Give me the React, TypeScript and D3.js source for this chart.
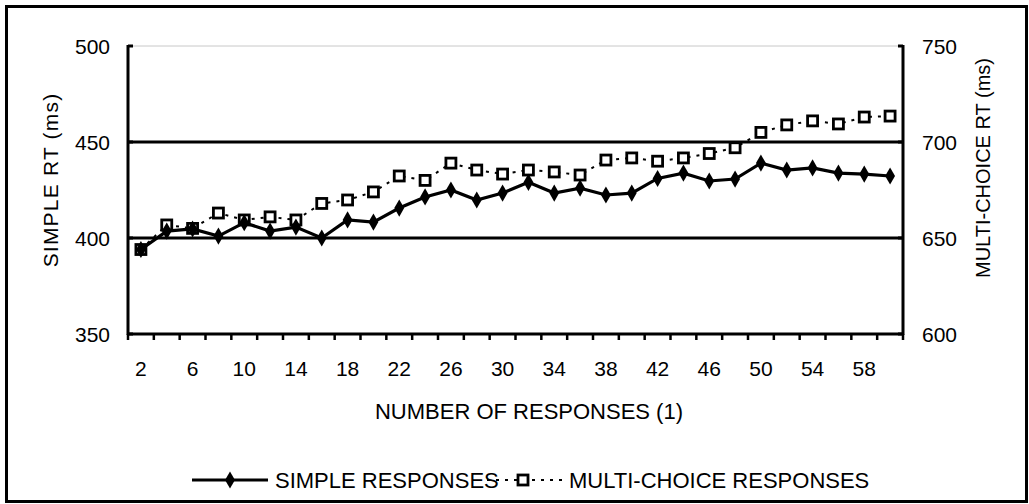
import React, { useEffect, useRef } from 'react';
import * as d3 from 'd3';

const categories = ['2', '4', '6', '8', '10', '12', '14', '16', '18', '20', '22', '24', '26', '28', '30',
    '32', '34', '36', '38', '40', '42', '44', '46', '48', '50', '52', '54', '56', '58', '60'];

const simpleRT = [394, 403.6, 404.7, 401, 408, 403.6, 405.7, 400, 409.4, 408.3, 415.6, 421.4, 425, 419.8, 423.4,
    429, 423.4, 426, 422.4, 423.4, 431, 433.8, 429.7, 430.7, 439, 435.4, 436.5, 433.8, 433.3, 432.3];

const multiRT = [644, 656.8, 655, 663, 659.4, 661, 659.4, 668, 669.8, 674, 682.3, 680, 689, 685.4, 683.3,
    685.4, 684.4, 682.8, 690.6, 691.7, 690, 691.7, 694, 697, 705, 708.9, 711, 709.4, 713, 713.5];

const xTickLabels = ['2', '6', '10', '14', '18', '22', '26', '30', '34', '38', '42', '46', '50', '54', '58'];
const leftTicks = [350, 400, 450, 500];
const rightTicks = [600, 650, 700, 750];

const FONT = '"Liberation Sans", Arial, sans-serif';

const App: React.FC = () => {
    const svgRef = useRef<SVGSVGElement | null>(null);

    useEffect(() => {
        const svg = d3.select(svgRef.current);
        svg.selectAll('*').remove();

        const width = 1029;
        const height = 504;
        const margin = { top: 46, right: 126, bottom: 170, left: 128 };

        const x = d3.scaleBand()
            .domain(categories)
            .range([margin.left, width - margin.right]);

        const yLeft = d3.scaleLinear().domain([350, 500]).range([height - margin.bottom, margin.top]);
        const yRight = d3.scaleLinear().domain([600, 750]).range([height - margin.bottom, margin.top]);

        const cx = (c: string) => x(c)! + x.bandwidth() / 2;

        // outer border
        svg.append('rect')
            .attr('x', 6.5).attr('y', 6.5)
            .attr('width', width - 9).attr('height', height - 9)
            .attr('fill', 'white')
            .attr('stroke', 'black')
            .attr('stroke-width', 3);

        // gridlines
        svg.append('line')
            .attr('x1', margin.left).attr('x2', width - margin.right)
            .attr('y1', yLeft(500)).attr('y2', yLeft(500))
            .attr('stroke', '#c8c8c8').attr('stroke-width', 1);

        svg.append('g')
            .selectAll('line')
            .data([400, 450])
            .enter()
            .append('line')
            .attr('x1', margin.left).attr('x2', width - margin.right)
            .attr('y1', d => yLeft(d)).attr('y2', d => yLeft(d))
            .attr('stroke', 'black').attr('stroke-width', 3);

        // axes lines
        const x0 = margin.left;
        const x1 = width - margin.right;
        const yb = yLeft(350);
        svg.append('line').attr('x1', x0).attr('x2', x1).attr('y1', yb).attr('y2', yb)
            .attr('stroke', 'black').attr('stroke-width', 3);
        svg.append('line').attr('x1', x0).attr('x2', x0).attr('y1', yLeft(500) - 1).attr('y2', yb + 1)
            .attr('stroke', 'black').attr('stroke-width', 3);
        svg.append('line').attr('x1', x1).attr('x2', x1).attr('y1', yLeft(500) - 1).attr('y2', yb + 1)
            .attr('stroke', 'black').attr('stroke-width', 3);

        // y ticks (inside)
        svg.append('g').selectAll('line').data(leftTicks).enter().append('line')
            .attr('x1', x0).attr('x2', x0 + 5)
            .attr('y1', d => yLeft(d)).attr('y2', d => yLeft(d))
            .attr('stroke', 'black').attr('stroke-width', 3);
        svg.append('g').selectAll('line').data(rightTicks).enter().append('line')
            .attr('x1', x1 - 5).attr('x2', x1)
            .attr('y1', d => yRight(d)).attr('y2', d => yRight(d))
            .attr('stroke', 'black').attr('stroke-width', 3);

        // x ticks at category boundaries
        const boundaries = categories.map(c => x(c)!).concat([x1]);
        svg.append('g').selectAll('line').data(boundaries).enter().append('line')
            .attr('x1', d => d).attr('x2', d => d)
            .attr('y1', yb).attr('y2', yb + 6)
            .attr('stroke', 'black').attr('stroke-width', 2.5);

        // tick labels
        svg.append('g').selectAll('text').data(leftTicks).enter().append('text')
            .attr('x', x0 - 18).attr('y', d => yLeft(d) + 7.5)
            .attr('text-anchor', 'end')
            .style('font-family', FONT).style('font-size', '21px')
            .text(d => d);
        svg.append('g').selectAll('text').data(rightTicks).enter().append('text')
            .attr('x', x1 + 19).attr('y', d => yRight(d) + 7.5)
            .attr('text-anchor', 'start')
            .style('font-family', FONT).style('font-size', '21px')
            .text(d => d);
        svg.append('g').selectAll('text').data(xTickLabels).enter().append('text')
            .attr('x', d => cx(d)).attr('y', yb + 42)
            .attr('text-anchor', 'middle')
            .style('font-family', FONT).style('font-size', '21px')
            .text(d => d);

        // axis titles
        svg.append('text')
            .attr('transform', `translate(58,180) rotate(-90)`)
            .attr('text-anchor', 'middle')
            .style('font-family', FONT).style('font-size', '21px')
            .style('letter-spacing', '1.2px')
            .text('SIMPLE RT (ms)');
        svg.append('text')
            .attr('transform', `translate(990,168) rotate(-90)`)
            .attr('text-anchor', 'middle')
            .style('font-family', FONT).style('font-size', '20px')
            .text('MULTI-CHOICE RT (ms)');
        svg.append('text')
            .attr('x', 529).attr('y', 419)
            .attr('text-anchor', 'middle')
            .style('font-family', FONT).style('font-size', '22px')
            .text('NUMBER OF RESPONSES (1)');

        // multi-choice series
        const multiLine = d3.line<number>()
            .x((_, i) => cx(categories[i]))
            .y(d => yRight(d));
        svg.append('path')
            .datum(multiRT)
            .attr('d', multiLine)
            .attr('fill', 'none')
            .attr('stroke', 'black')
            .attr('stroke-width', 2)
            .attr('stroke-dasharray', '3,6');
        svg.append('g').selectAll('rect').data(multiRT).enter().append('rect')
            .attr('x', (_, i) => cx(categories[i]) - 5)
            .attr('y', d => yRight(d) - 5)
            .attr('width', 10).attr('height', 10)
            .attr('fill', 'white')
            .attr('stroke', 'black')
            .attr('stroke-width', 2.8);

        // simple series
        const simpleLine = d3.line<number>()
            .x((_, i) => cx(categories[i]))
            .y(d => yLeft(d));
        svg.append('path')
            .datum(simpleRT)
            .attr('d', simpleLine)
            .attr('fill', 'none')
            .attr('stroke', 'black')
            .attr('stroke-width', 3.2);
        const diamond = d3.symbol().type(d3.symbolDiamond).size(85);
        svg.append('g').selectAll('path').data(simpleRT).enter().append('path')
            .attr('d', diamond)
            .attr('transform', (d, i) => `translate(${cx(categories[i])},${yLeft(d)})`)
            .attr('fill', 'black');

        // legend
        const ly = 480;
        svg.append('line').attr('x1', 192).attr('x2', 268).attr('y1', ly).attr('y2', ly)
            .attr('stroke', 'black').attr('stroke-width', 3.2);
        svg.append('path').attr('d', diamond)
            .attr('transform', `translate(230,${ly})`).attr('fill', 'black');
        svg.append('text').attr('x', 275).attr('y', ly + 7.5)
            .style('font-family', FONT).style('font-size', '22px')
            .text('SIMPLE RESPONSES');
        svg.append('line').attr('x1', 487).attr('x2', 562).attr('y1', ly).attr('y2', ly)
            .attr('stroke', 'black').attr('stroke-width', 2)
            .attr('stroke-dasharray', '3,6');
        svg.append('rect').attr('x', 518).attr('y', ly - 5)
            .attr('width', 10).attr('height', 10)
            .attr('fill', 'white').attr('stroke', 'black').attr('stroke-width', 2.8);
        svg.append('text').attr('x', 569).attr('y', ly + 7.5)
            .style('font-family', FONT).style('font-size', '22px')
            .text('MULTI-CHOICE RESPONSES');
    }, []);

    return (
        <svg ref={svgRef} width={1029} height={504}
            style={{ position: 'absolute', left: 0, top: 0, display: 'block' }}></svg>
    );
};

export default App;
